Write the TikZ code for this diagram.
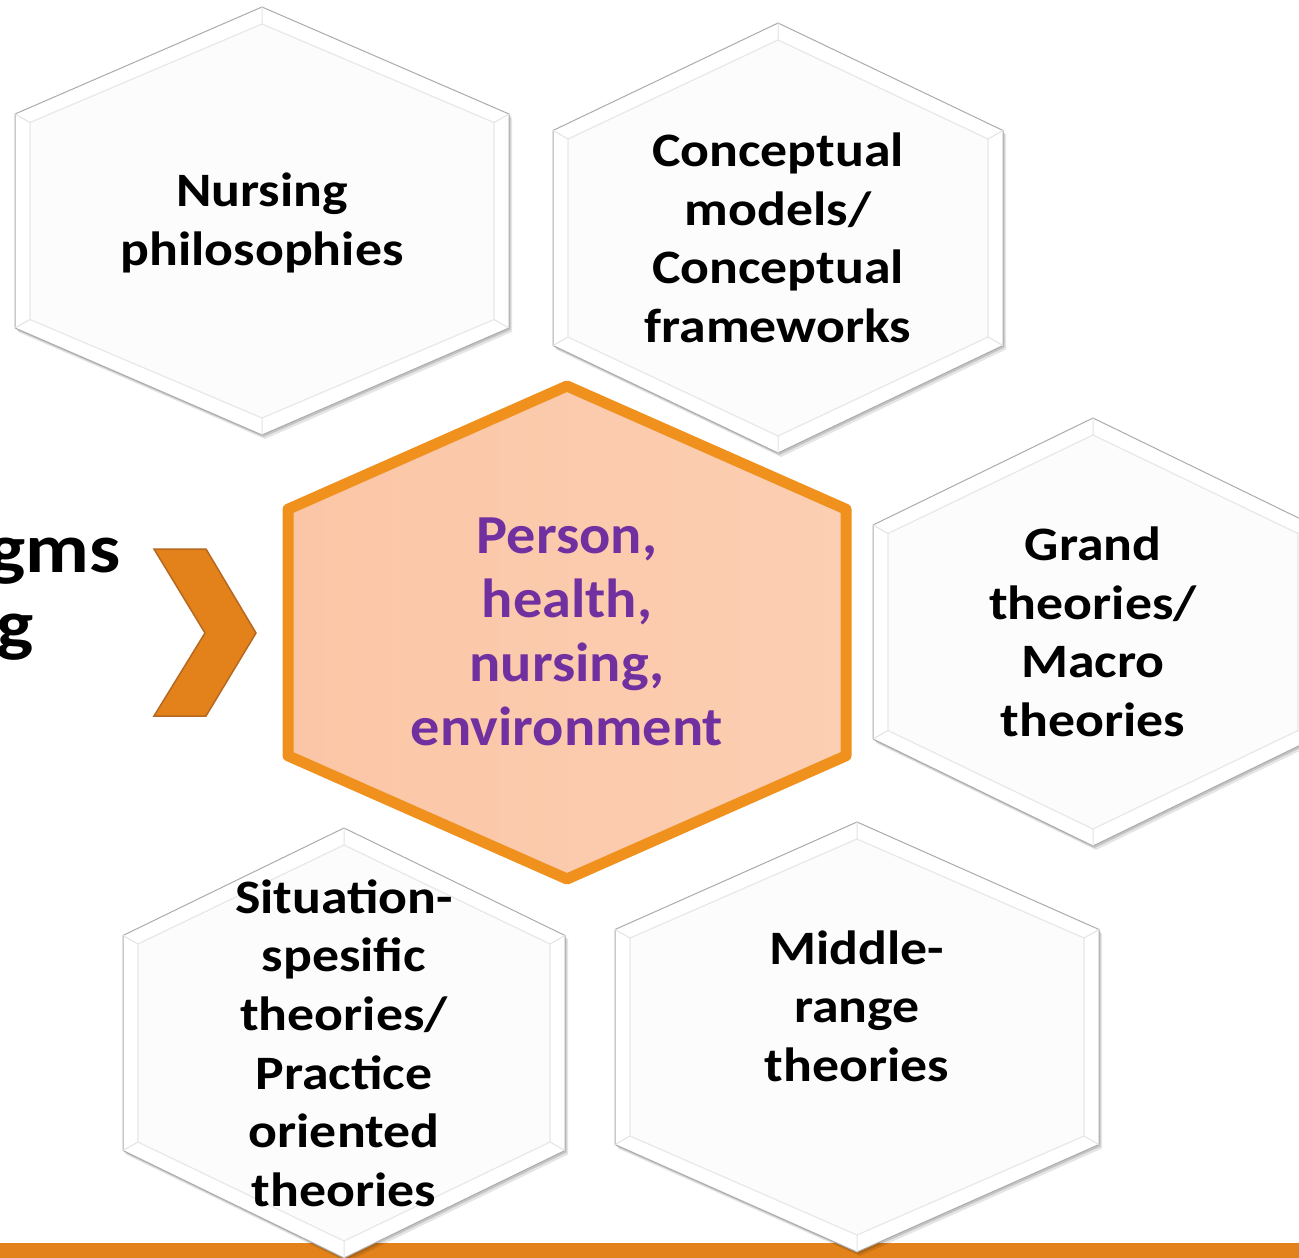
\documentclass[tikz,border=0pt]{standalone}
\usepackage{fontspec}
\setmainfont{Carlito}[FakeStretch=1.12]
\newfontfamily\centerfont{Carlito}[FakeStretch=1.06]
\definecolor{peachL}{RGB}{251,198,166}
\definecolor{peachR}{RGB}{252,206,178}
\definecolor{ring}{RGB}{240,145,30}
\definecolor{purp}{RGB}{112,48,160}
\definecolor{barorange}{RGB}{227,130,26}
\definecolor{chevd}{RGB}{183,104,32}
\definecolor{hexin}{RGB}{252,252,252}
\newcommand\hexp[4]{({#1-(#3)},{#2-(#4)/2}) -- ({#1},{#2-(#4)}) -- ({#1+(#3)},{#2-(#4)/2}) -- ({#1+(#3)},{#2+(#4)/2}) -- ({#1},{#2+(#4)}) -- ({#1-(#3)},{#2+(#4)/2}) -- cycle}
\newcommand\whitehexagon[4]{%
  \begin{scope}[shift={(1.5,2)}]\fill[black,opacity=0.14] \hexp{#1}{#2}{#3}{#4};\end{scope}
  \begin{scope}[shift={(3,4)}]\fill[black,opacity=0.10] \hexp{#1}{#2}{#3}{#4};\end{scope}
  \filldraw[fill=white,draw=gray!65,line width=1] \hexp{#1}{#2}{#3}{#4};
  \filldraw[fill=hexin,draw=gray!18,line width=1.2] \hexp{#1}{#2}{#3-15}{#4-17};
  \draw[gray!22,line width=1]
    ({#1-(#3)},{#2-(#4)/2}) -- ({#1-(#3)+15},{#2-(#4-17)/2})
    ({#1},{#2-(#4)}) -- ({#1},{#2-(#4)+17})
    ({#1+(#3)},{#2-(#4)/2}) -- ({#1+(#3)-15},{#2-(#4-17)/2})
    ({#1+(#3)},{#2+(#4)/2}) -- ({#1+(#3)-15},{#2+(#4-17)/2})
    ({#1},{#2+(#4)}) -- ({#1},{#2+(#4)-17})
    ({#1-(#3)},{#2+(#4)/2}) -- ({#1-(#3)+15},{#2+(#4-17)/2});
}
\begin{document}
\begin{tikzpicture}[x=1pt,y=-1pt,
  wtext/.style={align=center,inner sep=0pt,text=black,font=\fontsize{48}{58.6}\selectfont\bfseries},
  ctext/.style={align=center,inner sep=0pt,text=purp,font=\centerfont\fontsize{55}{64}\selectfont\bfseries},
  ltext/.style={inner sep=0pt,text=black,font=\fontsize{70}{76}\selectfont\bfseries}]
\useasboundingbox (0,0) rectangle (1299,1258);
\fill[white] (0,0) rectangle (1299,1258);
% bottom bar
\fill[barorange] (0,1243) rectangle (1299,1258);
% white hexagons
\whitehexagon{262}{221}{247}{214}
\whitehexagon{778}{238}{225}{215}
\whitehexagon{1093}{632}{220}{214}
\whitehexagon{344}{1043}{221}{215}
\whitehexagon{857}{1037}{242}{215}
% central hexagon
\shade[left color=peachL,right color=peachR] \hexp{567}{632.5}{279}{246.5};
\draw[ring,line width=11,line join=round] \hexp{567}{632.5}{279}{246.5};
% chevron
\filldraw[fill=barorange,draw=chevd,line width=1.5,line join=miter]
  (154,549) -- (206,549) -- (256,633) -- (206,716) -- (154,716) -- (205,633) -- cycle;
% texts
\node[wtext] (np) at (262,223) {Nursing\\philosophies};
\node[wtext] (cm) at (778,238) {Conceptual\\models/\\Conceptual\\frameworks};
\node[wtext] (gt) at (1093,632) {Grand\\theories/\\Macro\\theories};
\node[ctext] (ph) at (567,632) {Person,\\health,\\nursing,\\environment};
\node[wtext] (ss) at (344,1043) {Situation-\\spesific\\theories/\\Practice\\oriented\\theories};
\node[wtext] (mr) at (857,1006) {Middle-\\range\\theories};
\node[ltext,anchor=base east] (p1) at (121,572) {gms};
\node[ltext,anchor=base east] (p2) at (34,648) {g};
\end{tikzpicture}
\end{document}
